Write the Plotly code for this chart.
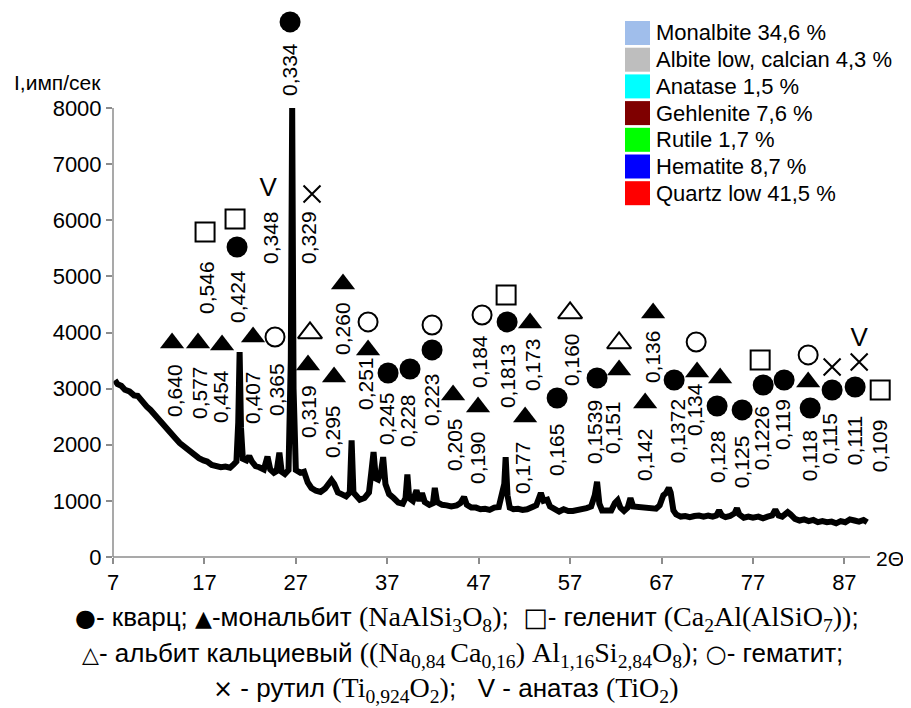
import plotly.graph_objects as go

# ---------------- data ----------------
two_theta = [7.2, 7.5, 7.9, 8.3, 8.8, 9.3, 9.7, 10.2, 10.7, 11.1, 11.6, 12.0, 12.5, 12.9, 13.4, 13.8,
             14.3, 14.9, 15.4, 15.9, 16.4, 16.9, 17.3, 17.8, 18.3, 18.8, 19.3, 19.8, 20.2, 20.5, 20.7,
             20.85, 21.0, 21.2, 21.6, 21.9, 22.2, 22.6, 23.0, 23.5, 23.9, 24.2, 24.6, 24.9, 25.2, 25.45,
             25.8, 26.2, 26.45, 26.6, 26.75, 27.0, 27.5, 27.9, 28.3, 28.7, 29.2, 29.7, 30.2, 30.6, 30.9,
             31.2, 31.6, 32.0, 32.5, 32.9, 33.1, 33.3, 33.6, 34.0, 34.5, 35.0, 35.25, 35.5, 35.75, 36.0,
             36.3, 36.55, 36.8, 37.2, 37.7, 38.2, 38.7, 39.0, 39.2, 39.4, 39.8, 40.2, 40.5, 40.8, 41.1,
             41.6, 42.0, 42.2, 42.45, 43.0, 43.5, 44.0, 44.6, 45.0, 45.4, 45.7, 46.2, 46.7, 47.2, 47.7,
             48.2, 48.7, 49.2, 49.5, 49.8, 49.95, 50.15, 50.4, 50.8, 51.3, 51.8, 52.3, 52.8, 53.3, 53.6,
             53.8, 54.1, 54.5, 54.8, 55.3, 55.8, 56.3, 56.8, 57.3, 57.8, 58.3, 58.8, 59.3, 59.7, 59.95,
             60.2, 60.5, 61.0, 61.5, 61.9, 62.2, 62.5, 62.9, 63.3, 63.6, 63.9, 64.4, 64.9, 65.4, 65.9,
             66.4, 66.8, 67.2, 67.5, 67.8, 68.0, 68.3, 68.6, 69.1, 69.6, 70.1, 70.6, 71.1, 71.6, 72.1,
             72.6, 73.0, 73.3, 73.6, 74.0, 74.5, 75.0, 75.25, 75.5, 76.0, 76.5, 77.0, 77.6, 78.1, 78.6,
             79.1, 79.45, 79.8, 80.2, 80.8, 81.1, 81.6, 82.1, 82.6, 83.1, 83.6, 84.1, 84.6, 85.1, 85.6,
             86.1, 86.6, 87.1, 87.6, 88.1, 88.6, 89.1, 89.5]
intensity = [3150, 3080, 3050, 2980, 2950, 2880, 2870, 2760, 2680, 2620, 2520, 2450, 2380, 2290, 2190, 2120,
             2030, 1950, 1870, 1830, 1760, 1720, 1700, 1640, 1620, 1600, 1610, 1590, 1650, 1700, 2400,
             3650, 2300, 1750, 1720, 1800, 1700, 1620, 1600, 1560, 1790, 1560, 1500, 1530, 1860, 1520,
             1480, 1550, 3500, 8000, 3000, 1550, 1500, 1520, 1330, 1230, 1180, 1160, 1220, 1320, 1370,
             1300, 1150, 1120, 1080, 1150, 2080, 1150, 1080, 1020, 1050, 1150, 1500, 1870, 1400, 1380,
             1500, 1780, 1300, 1120, 1050, 970, 950, 1050, 1470, 1050, 1000, 1190, 1000, 1140, 980,
             930, 960, 1230, 980, 930, 920, 900, 920, 960, 1070, 930, 880, 880, 850, 860,
             840, 880, 890, 1060, 1300, 1780, 1100, 880, 850, 860, 840, 850, 880, 920, 1050,
             1140, 1000, 1020, 900, 860, 810, 850, 820, 820, 830, 850, 870, 900, 1100, 1340,
             950, 830, 820, 830, 960, 1010, 880, 820, 880, 1050, 900, 890, 880, 880, 870,
             860, 920, 1100, 1140, 1230, 1150, 830, 760, 720, 730, 710, 730, 740, 720, 740,
             720, 740, 830, 740, 710, 730, 780, 870, 760, 700, 720, 700, 720, 690, 720,
             740, 840, 740, 720, 800, 760, 680, 650, 670, 640, 660, 620, 640, 620, 630,
             600, 640, 620, 670, 650, 630, 660, 620]

# phase markers (2theta, label height)
quartz_x = [26.37, 20.57, 37.09, 39.49, 41.90, 50.11, 55.58, 59.95, 68.38, 73.08, 75.82, 78.12, 80.41, 83.26, 85.66, 88.18]
quartz_y = [9534, 5524, 3279, 3350, 3689, 4188, 2833, 3190, 3154, 2691, 2620, 3065, 3154, 2655, 2976, 3029]
monalbite_x = [13.46, 16.30, 18.93, 22.32, 28.33, 31.18, 32.16, 34.90, 44.20, 46.93, 52.62, 52.08, 62.36, 66.08, 65.21, 70.89, 73.41, 83.04]
monalbite_y = [3813, 3813, 3778, 3920, 3421, 3208, 4865, 3689, 2887, 2673, 4170, 2495, 3332, 4348, 2744, 3297, 3190, 3119]
gehlenite_x = [17.07, 20.35, 50.00, 77.79, 90.92]
gehlenite_y = [5792, 6023, 4669, 3511, 2976]
albite_x = [28.55, 57.00, 62.36]
albite_y = [3992, 4348, 3813]
hematite_x = [24.72, 34.90, 41.90, 47.37, 70.79, 83.04]
hematite_y = [3920, 4188, 4134, 4312, 3831, 3600]
rutile_x = [28.77, 85.66, 88.62]
rutile_y = [6469, 3386, 3475]
anatase_x = [23.96, 88.62]
anatase_y = [6540, 3867]

# d-spacing labels
d_labels = ["0,334", "0,348", "0,329", "0,546", "0,424", "0,260", "0,640", "0,577", "0,454", "0,407",
            "0,365", "0,319", "0,295", "0,251", "0,245", "0,228", "0,223", "0,205", "0,190", "0,184",
            "0,1813", "0,173", "0,177", "0,165", "0,160", "0,1539", "0,151", "0,142", "0,136", "0,1372",
            "0,134", "0,128", "0,125", "0,1226", "0,119", "0,118", "0,115", "0,111", "0,109"]
d_x = [26.37, 24.29, 28.44, 17.28, 20.68, 32.16, 13.78, 16.41, 18.82, 22.21,
       24.94, 28.44, 31.07, 34.68, 36.98, 39.28, 41.90, 44.42, 46.82, 47.15,
       50.11, 52.84, 51.86, 55.58, 57.22, 59.74, 61.70, 65.21, 66.08, 68.71,
       70.68, 73.19, 75.82, 78.01, 80.30, 83.26, 85.45, 88.18, 90.92]
d_y = [8678, 5685, 5685, 4811, 4633, 4063, 2976, 2922, 2851, 2833,
       2976, 2584, 2228, 3083, 2459, 2424, 2798, 1996, 1764, 3475,
       3225, 3421, 1586, 1907, 3511, 2228, 2299, 1818, 3564, 2245,
       2620, 1782, 1693, 2121, 2352, 1800, 2103, 2067, 1978]

x_ticks = [7, 17, 27, 37, 47, 57, 67, 77, 87]
y_ticks = [0, 1000, 2000, 3000, 4000, 5000, 6000, 7000, 8000]

phase_names = ["Monalbite 34,6 %", "Albite low, calcian 4,3 %", "Anatase 1,5 %", "Gehlenite 7,6 %",
               "Rutile 1,7 %", "Hematite 8,7 %", "Quartz low 41,5 %"]
phase_colors = ["#A0BEEB", "#BEBEBE", "#00FFFF", "#7F0000", "#00FF00", "#0000FF", "#FF0000"]

# ---------------- layout helpers ----------------
OFF = 8                       # default page margin of the html body
W, H = 911 - OFF, 708 - OFF
# plot area in reference pixels (extended beyond the drawn axes so all labels fit)
PL, PR, PT, PB = 113, 905, 12, 557
XPX = 9.142                   # px per degree
YPX = 449 / 8000              # px per count
x_max = 7 + (PR - PL) / XPX
y_max = (PB - PT) / YPX

def px_x(px):
    return (px - PL) / (PR - PL)

def px_y(py):
    return (PB - py) / (PB - PT)

SANS = "Liberation Sans, Arial, sans-serif"

fig = go.Figure()

fig.add_trace(go.Scatter(x=two_theta, y=intensity, mode="lines",
                         line=dict(color="black", width=6), showlegend=False, hoverinfo="skip"))

def add_marker(xs, ys, symbol, size, lw=0):
    fig.add_trace(go.Scatter(x=xs, y=ys, mode="markers", cliponaxis=False, showlegend=False,
                             marker=dict(symbol=symbol, size=size, color="black",
                                         line=dict(color="black", width=lw))))

add_marker(quartz_x, quartz_y, "circle", 21)
add_marker(monalbite_x, monalbite_y, "triangle-up", 21)
add_marker(gehlenite_x, gehlenite_y, "square-open", 19, 2)
add_marker(albite_x, albite_y, "triangle-up-open", 21, 2)
add_marker(hematite_x, hematite_y, "circle-open", 19, 2)
add_marker(rutile_x, rutile_y, "x-thin-open", 17, 2)
fig.add_trace(go.Scatter(x=anatase_x, y=anatase_y, mode="text", text=["V"] * len(anatase_x),
                         cliponaxis=False, showlegend=False,
                         textfont=dict(family=SANS, size=26, color="black")))

annotations = []
for lab, xv, yv in zip(d_labels, d_x, d_y):
    annotations.append(dict(x=xv, y=yv, xref="x", yref="y", text=lab, showarrow=False,
                            textangle=-90, font=dict(family=SANS, size=21, color="black")))

axis_col = "#8C8C8C"
shapes = [
    dict(type="line", xref="paper", yref="paper", x0=0, x1=px_x(870), y0=0, y1=0,
         line=dict(color=axis_col, width=1.5)),
    dict(type="line", xref="paper", yref="paper", x0=0, x1=0, y0=0, y1=px_y(108),
         line=dict(color=axis_col, width=1.5)),
]

# legend block
for i, (name, col) in enumerate(zip(phase_names, phase_colors)):
    cy = 33 + 26.7 * i
    shapes.append(dict(type="rect", xref="paper", yref="paper",
                       x0=px_x(625), x1=px_x(650), y0=px_y(cy + 12), y1=px_y(cy - 12),
                       fillcolor=col, line=dict(width=0)))
    annotations.append(dict(x=px_x(654), y=px_y(cy), xref="paper", yref="paper", text=name,
                            showarrow=False, xanchor="left", yanchor="middle",
                            font=dict(family=SANS, size=22, color="black")))

# axis titles
annotations.append(dict(x=px_x(12), y=px_y(82), xref="paper", yref="paper", text="I,имп/сек",
                        showarrow=False, xanchor="left", yanchor="middle",
                        font=dict(family=SANS, size=21, color="black")))
annotations.append(dict(x=px_x(874), y=px_y(559), xref="paper", yref="paper", text="2Θ",
                        showarrow=False, xanchor="left", yanchor="middle",
                        font=dict(family=SANS, size=21, color="black")))

# caption
def serif(s):
    return '<span style="font-family:Liberation Serif, Times New Roman, serif;font-size:28px">' + s + '</span>'

def sym(s, size):
    return '<span style="font-family:DejaVu Sans;font-size:%dpx">%s</span>' % (size, s)

line1 = (sym("●", 24) + "- кварц; " + sym("▲", 22) + "-мональбит " + serif("(NaAlSi<sub>3</sub>O<sub>8</sub>)")
         + ";  " + sym("□", 26) + "- геленит " + serif("(Ca<sub>2</sub>Al(AlSiO<sub>7</sub>))") + ";")
line2 = (sym("△", 22) + "- альбит кальциевый "
         + serif("((Na<sub>0,84 </sub>Ca<sub>0,16</sub>) Al<sub>1,16</sub>Si<sub>2,84</sub>O<sub>8</sub>)")
         + "; " + sym("○", 24) + "- гематит;")
line3 = (sym("×", 24) + " - рутил " + serif("(Ti<sub>0,924</sub>O<sub>2</sub>)") + ";   V - анатаз "
         + serif("(TiO<sub>2</sub>)"))
for txt, cx, cy in [(line1, 467, 618), (line2, 462, 654), (line3, 445, 689)]:
    annotations.append(dict(x=px_x(cx), y=px_y(cy), xref="paper", yref="paper", text=txt,
                            showarrow=False, xanchor="center", yanchor="middle",
                            font=dict(family=SANS, size=26, color="black")))

fig.update_layout(
    width=W, height=H,
    margin=dict(l=PL - OFF, r=W - (PR - OFF), t=PT - OFF, b=H - (PB - OFF), autoexpand=False),
    paper_bgcolor="white", plot_bgcolor="white",
    showlegend=False,
    shapes=shapes,
    annotations=annotations,
    xaxis=dict(range=[7, x_max], tickmode="array", tickvals=x_ticks, ticktext=[str(v) for v in x_ticks],
               showgrid=False, zeroline=False, showline=False, automargin=False,
               ticks="outside", ticklen=6, tickcolor=axis_col, tickwidth=1.5,
               tickfont=dict(family=SANS, size=22, color="black")),
    yaxis=dict(range=[0, y_max], tickmode="array", tickvals=y_ticks, ticktext=[str(v) for v in y_ticks],
               showgrid=False, zeroline=False, showline=False, automargin=False,
               ticks="outside", ticklen=6, tickcolor=axis_col, tickwidth=1.5,
               tickfont=dict(family=SANS, size=22, color="black")),
)

fig.write_html("out.html")
